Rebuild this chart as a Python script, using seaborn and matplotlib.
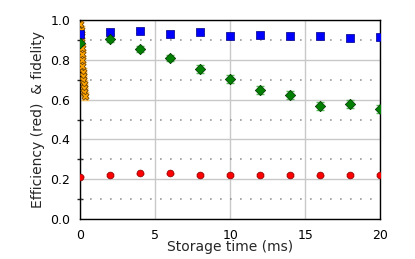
import numpy as np
import pandas as pd
import matplotlib
matplotlib.use('Agg')
import matplotlib.pyplot as plt
import seaborn as sns

t = [0, 2, 4, 6, 8, 10, 12, 14, 16, 18, 20]
fid_blue = [0.93, 0.94, 0.945, 0.93, 0.94, 0.92, 0.925, 0.92, 0.92, 0.91, 0.915]
fid_blue_err = [0.02, 0.012, 0.012, 0.015, 0.012, 0.015, 0.015, 0.015, 0.015, 0.015, 0.015]
fid_green = [0.885, 0.905, 0.855, 0.81, 0.755, 0.705, 0.65, 0.625, 0.57, 0.58, 0.553]
fid_green_err = [0.015, 0.015, 0.015, 0.015, 0.02, 0.02, 0.02, 0.02, 0.02, 0.02, 0.02]
eff_red = [0.213, 0.221, 0.23, 0.23, 0.221, 0.221, 0.221, 0.221, 0.219, 0.221, 0.221]
eff_red_err = [0.004] * 11

t_short = [0.02, 0.04, 0.06, 0.08, 0.1, 0.12, 0.14, 0.16, 0.18, 0.2, 0.22, 0.24, 0.26, 0.28, 0.3]
fid_short = [0.98, 0.95, 0.92, 0.89, 0.86, 0.83, 0.8, 0.77, 0.74, 0.72, 0.70, 0.68, 0.66, 0.64, 0.62]
fid_short_err = [0.02] * 15

sns.set_style('white')
plt.rcParams['font.family'] = ['DejaVu Sans']

fig = plt.figure(figsize=(4.15, 2.59), dpi=100)
ax = fig.add_axes([0.193, 0.154, 0.723, 0.769])

for y in [0.1, 0.3, 0.5, 0.7, 0.9]:
    ax.axhline(y, color='gray', ls=(0, (1, 5)), lw=1.2, alpha=0.8, zorder=1)
ax.grid(True, which='major', color='#c8c8c8', lw=1, zorder=0)

ax.errorbar(t_short, fid_short, yerr=fid_short_err, fmt='none', ecolor='#ffc860', elinewidth=1, capsize=3, zorder=2)
ax.errorbar(t, fid_blue, yerr=fid_blue_err, fmt='none', ecolor='#8080ff', elinewidth=1, capsize=3, zorder=2)
ax.errorbar(t, fid_green, yerr=fid_green_err, fmt='none', ecolor='#60c060', elinewidth=1, capsize=3, zorder=2)
ax.errorbar(t, eff_red, yerr=eff_red_err, fmt='none', ecolor='#ff8080', elinewidth=1, capsize=3, zorder=2)

sns.scatterplot(x=t_short, y=fid_short, ax=ax, marker='X', s=26, color='orange', edgecolor='#7a4a00', linewidth=0.6, zorder=3)
sns.scatterplot(x=t, y=fid_blue, ax=ax, marker='s', s=32, color='blue', edgecolor='#000080', linewidth=0.5, zorder=3)
sns.scatterplot(x=t, y=fid_green, ax=ax, marker='D', s=28, color='green', edgecolor='#003000', linewidth=0.5, zorder=3)
sns.scatterplot(x=t, y=eff_red, ax=ax, marker='o', s=24, color='red', edgecolor='#800000', linewidth=0.5, zorder=3)

ax.set_xlim(0, 20)
ax.set_ylim(0, 1.0)
ax.set_xticks([0, 5, 10, 15, 20])
ax.set_yticks([0, 0.2, 0.4, 0.6, 0.8, 1.0])
ax.set_yticks([0.1, 0.3, 0.5, 0.7, 0.9], minor=True)
ax.tick_params(axis='both', which='major', direction='inout', length=7, width=1, labelsize=9, colors='black')
ax.tick_params(axis='y', which='minor', direction='inout', length=5, width=1, left=True)
for s in ax.spines.values():
    s.set_color('black')
    s.set_linewidth(1)
ax.set_xlabel('Storage time (ms)', fontsize=10, labelpad=-1)
ax.set_ylabel('Efficiency (red)  & fidelity', fontsize=10)

fig.savefig('out.png', dpi=100)
